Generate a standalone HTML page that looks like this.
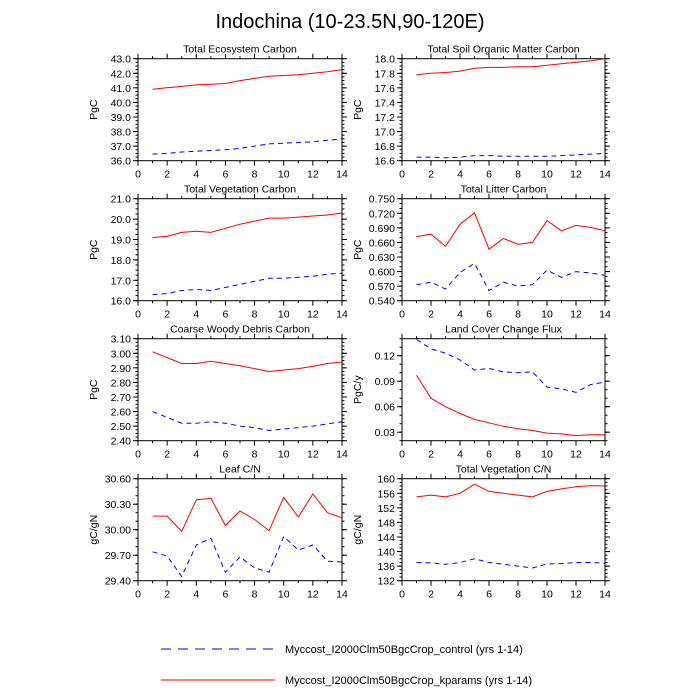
<!DOCTYPE html>
<html><head><meta charset="utf-8"><style>body{margin:0;background:#fff}svg{display:block}</style></head><body>
<svg id="s" width="700" height="700" xmlns="http://www.w3.org/2000/svg" font-family="Liberation Sans, sans-serif">
<text x="350" y="28" font-size="20" text-anchor="middle">Indochina (10-23.5N,90-120E)</text>
<line x1="161" y1="649" x2="275" y2="649" stroke="#00f" stroke-width="1" stroke-dasharray="10,7"/>
<text x="285" y="653" font-size="11">Myccost_I2000Clm50BgcCrop_control (yrs 1-14)</text>
<line x1="161" y1="680" x2="275" y2="680" stroke="#f00" stroke-width="1"/>
<text x="285" y="684" font-size="11">Myccost_I2000Clm50BgcCrop_kparams (yrs 1-14)</text>
</svg>
<script>
const P=[
{t:"Total Ecosystem Carbon",u:"PgC",lo:36,hi:43,step:1,mn:0.25,dec:1,
r:[40.9,41.0,41.1,41.2,41.25,41.3,41.5,41.65,41.8,41.85,41.9,42.0,42.1,42.25],
b:[36.45,36.5,36.6,36.65,36.7,36.75,36.85,37.0,37.15,37.2,37.25,37.3,37.4,37.5]},
{t:"Total Soil Organic Matter Carbon",u:"PgC",lo:16.6,hi:18.0,step:0.2,mn:0.05,dec:1,
r:[17.78,17.8,17.81,17.83,17.87,17.88,17.88,17.89,17.89,17.91,17.93,17.95,17.97,18.0],
b:[16.65,16.65,16.64,16.65,16.67,16.67,16.66,16.66,16.66,16.66,16.67,16.68,16.69,16.7]},
{t:"Total Vegetation Carbon",u:"PgC",lo:16,hi:21,step:1,mn:0.25,dec:1,
r:[19.1,19.15,19.35,19.4,19.35,19.55,19.75,19.9,20.05,20.05,20.1,20.15,20.2,20.3],
b:[16.3,16.35,16.5,16.55,16.5,16.65,16.8,16.95,17.1,17.1,17.15,17.2,17.3,17.35]},
{t:"Total Litter Carbon",u:"PgC",lo:0.54,hi:0.75,step:0.03,mn:0.01,dec:3,
r:[0.672,0.677,0.652,0.697,0.721,0.646,0.668,0.656,0.66,0.705,0.684,0.695,0.691,0.684],
b:[0.573,0.578,0.564,0.598,0.617,0.561,0.578,0.57,0.573,0.603,0.588,0.6,0.597,0.592]},
{t:"Coarse Woody Debris Carbon",u:"PgC",lo:2.4,hi:3.1,step:0.1,mn:0.025,dec:2,
r:[3.01,2.97,2.93,2.93,2.945,2.93,2.915,2.895,2.875,2.885,2.895,2.91,2.93,2.94],
b:[2.6,2.56,2.52,2.52,2.53,2.52,2.5,2.49,2.47,2.48,2.49,2.5,2.515,2.53]},
{t:"Land Cover Change Flux",u:"PgC/y",lo:0.02,hi:0.14,step:0.03,mn:0.01,dec:2,t0:0.03,
r:[0.097,0.07,0.06,0.052,0.045,0.041,0.037,0.034,0.032,0.029,0.028,0.026,0.027,0.027],
b:[0.139,0.128,0.123,0.115,0.103,0.105,0.101,0.1,0.101,0.083,0.081,0.077,0.086,0.089]},
{t:"Leaf C/N",u:"gC/gN",lo:29.4,hi:30.6,step:0.3,mn:0.1,dec:2,
r:[30.16,30.16,29.98,30.35,30.37,30.05,30.22,30.12,29.99,30.38,30.15,30.42,30.2,30.14],
b:[29.74,29.69,29.45,29.82,29.9,29.5,29.68,29.55,29.5,29.92,29.76,29.82,29.63,29.62]},
{t:"Total Vegetation C/N",u:"gC/gN",lo:132,hi:160,step:4,mn:1,dec:0,
r:[155,155.5,155,156,158.5,156.5,156,155.5,155,156.5,157.2,157.8,158.1,158],
b:[137,136.9,136.5,137,138,137,136.5,136,135.5,136.6,136.7,137,137,136.8]}];
let h="";
P.forEach((p,i)=>{
const c=i%2,rw=Math.floor(i/2);
const x0=c?402:138,x1=c?605:342,y0=58.7+rw*140,y1=y0+102;
const X=v=>x0+(x1-x0)*v/14,Y=v=>y1-(y1-y0)*(v-p.lo)/(p.hi-p.lo);
h+=`<text x="${(x0+x1)/2}" y="${y0-6}" font-size="10.5" text-anchor="middle">${p.t}</text>`;
h+=`<rect x="${x0}" y="${y0}" width="${x1-x0}" height="${y1-y0}" fill="none" stroke="#000" stroke-width="1"/>`;
for(let v=0;v<=14;v++){const x=X(v),L=v%2?2.5:5;
h+=`<line x1="${x}" y1="${y1}" x2="${x}" y2="${y1+L}" stroke="#000"/><line x1="${x}" y1="${y0}" x2="${x}" y2="${y0-L}" stroke="#000"/>`;
if(v%2==0)h+=`<text x="${x}" y="${y1+17}" font-size="10.5" text-anchor="middle">${v}</text>`;}
for(let v=p.lo;v<=p.hi+1e-9;v+=p.mn){const y=Y(v);
h+=`<line x1="${x0}" y1="${y}" x2="${x0-2.5}" y2="${y}" stroke="#000"/><line x1="${x1}" y1="${y}" x2="${x1+2.5}" y2="${y}" stroke="#000"/>`;}
for(let v=(p.t0||p.lo);v<=p.hi+1e-9;v+=p.step){const y=Y(v);
h+=`<line x1="${x0}" y1="${y}" x2="${x0-5}" y2="${y}" stroke="#000"/><line x1="${x1}" y1="${y}" x2="${x1+5}" y2="${y}" stroke="#000"/>`;
h+=`<text x="${x0-7}" y="${y+4}" font-size="10.5" text-anchor="end">${v.toFixed(p.dec)}</text>`;}
h+=`<text transform="translate(${x0-41},${(y0+y1)/2}) rotate(-90)" font-size="10.5" text-anchor="middle">${p.u}</text>`;
const pl=a=>a.map((v,k)=>X(k+1).toFixed(1)+","+Y(v).toFixed(1)).join(" ");
h+=`<polyline points="${pl(p.b)}" fill="none" stroke="#00f" stroke-width="1" stroke-dasharray="5,4"/>`;
h+=`<polyline points="${pl(p.r)}" fill="none" stroke="#f00" stroke-width="1"/>`;
});
document.getElementById("s").insertAdjacentHTML("beforeend",h);
</script>
</body></html>
